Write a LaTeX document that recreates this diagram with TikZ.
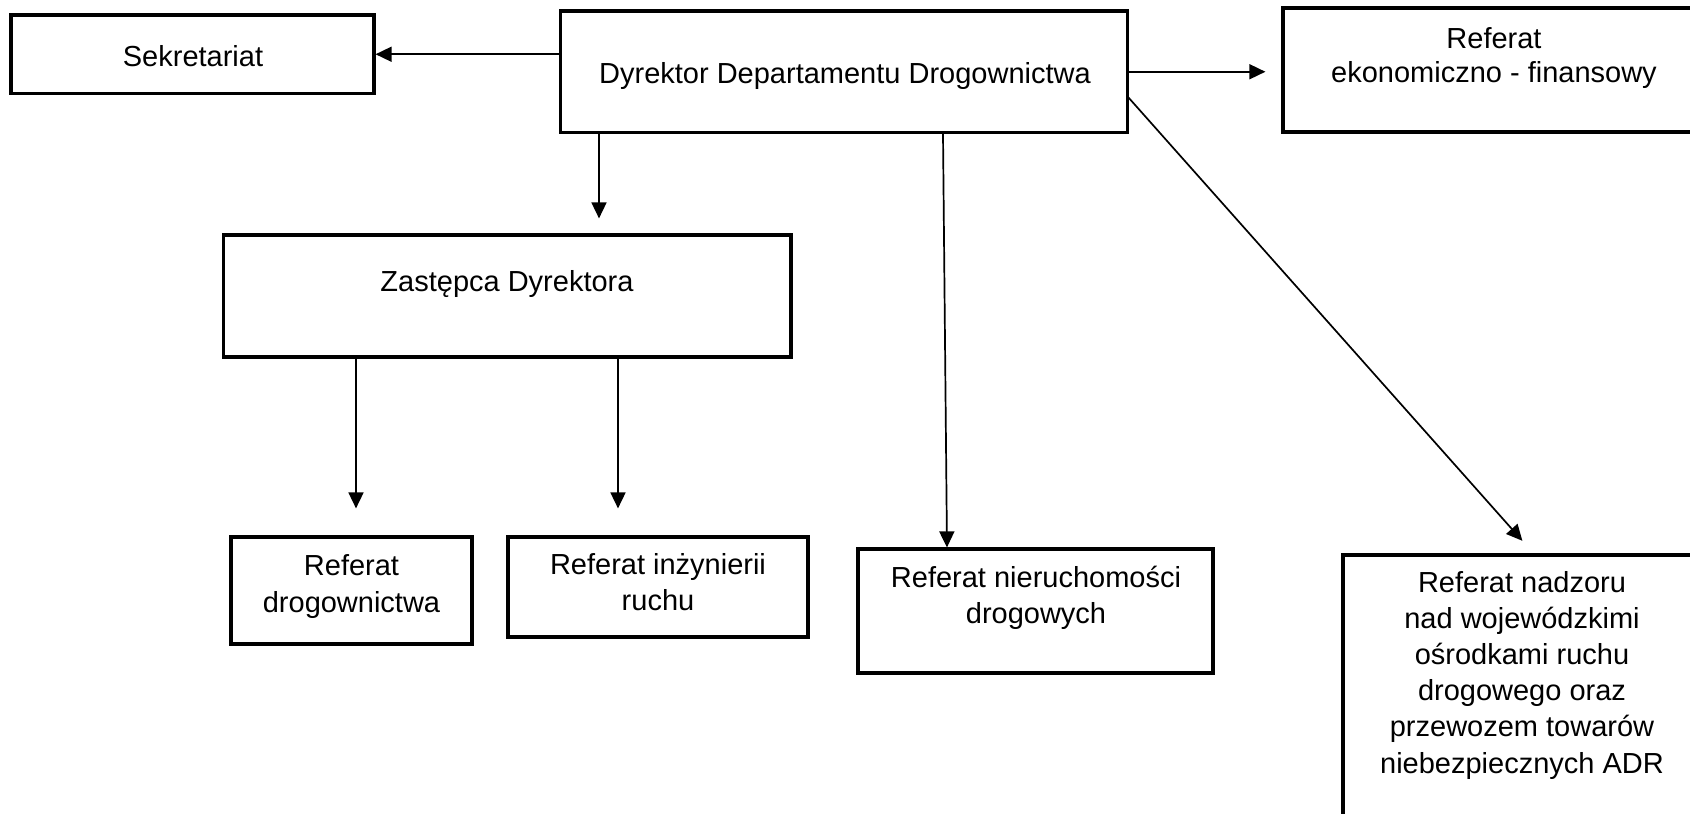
\documentclass[tikz,border=0pt]{standalone}
\usepackage{fontspec}
\setmainfont{Liberation Sans}
\usetikzlibrary{arrows.meta}
\begin{document}
\begin{tikzpicture}[x=1pt,y=-1pt,
  box/.style={draw, line width=3.2pt, inner sep=0pt, rectangle},
  txt/.style={anchor=base, inner sep=0pt, align=center, font=\fontsize{29}{36.2}\selectfont},
  arr/.style={draw, line width=1.7pt, -{Triangle[length=16pt,width=15pt]}}]
\clip (0,0) rectangle (1690,814);
\fill[white] (0,0) rectangle (1690,814);
% boxes
\node[box, minimum width=363pt, minimum height=78.5pt] (sek) at (192.5,54.25) {};
\node[box, minimum width=567pt, minimum height=121.5pt] (dyr) at (844,71.75) {};
\node[box, minimum width=422pt, minimum height=124pt] (ekon) at (1494,70) {};
\node[box, minimum width=567.5pt, minimum height=122pt] (zas) at (507.25,296) {};
\node[box, minimum width=241pt, minimum height=107pt] (drog) at (351.5,590.5) {};
\node[box, minimum width=300pt, minimum height=100pt] (inz) at (658,587) {};
\node[box, minimum width=355pt, minimum height=124pt] (nier) at (1035.5,611) {};
\node[box, minimum width=358pt, minimum height=275pt] (nad) at (1522,692.5) {};
% texts (anchor at baseline of last line)
\node[txt] (tsek) at (193,66) {Sekretariat};
\node[txt] (tdyr) at (845,83.5) {Dyrektor Departamentu Drogownictwa};
\node[txt, font=\fontsize{29}{34}\selectfont] (tekon) at (1494,82.5) {Referat\\ekonomiczno - finansowy};
\node[txt] (tzas) at (507,291.5) {Zastępca Dyrektora};
\node[txt, font=\fontsize{29}{37}\selectfont] (tdrog) at (351.5,612) {Referat\\drogownictwa};
\node[txt, font=\fontsize{29}{36}\selectfont] (tinz) at (658,610) {Referat inżynierii\\ruchu};
\node[txt, font=\fontsize{29}{36}\selectfont] (tnier) at (1036,623) {Referat nieruchomości\\drogowych};
\node[txt] (tnad) at (1522,773) {Referat nadzoru\\nad wojewódzkimi\\ośrodkami ruchu\\drogowego oraz\\przewozem towarów\\niebezpiecznych ADR};
% coordinates for connector columns
\coordinate (cz) at (599,0);
\coordinate (cn1) at (943,0);
\coordinate (cn2) at (947,0);
\coordinate (cd1) at (1128,97);
\coordinate (cd2) at (1535,555);
\coordinate (c1) at (356,0);
\coordinate (c2) at (618,0);
% connectors
\draw[arr] (dyr.west |- sek.east) -- (sek.east);
\draw[arr, shorten >=16pt] (dyr.east) -- (dyr.east -| ekon.west);
\draw[arr, shorten >=15pt] (dyr.south -| cz) -- (zas.north -| cz);
\draw[arr] (dyr.south -| cn1) -- (nier.north -| cn2);
\draw[arr, shorten >=19pt] (cd1) -- (cd2);
\draw[arr, shorten >=27pt] (zas.south -| c1) -- (drog.north -| c1);
\draw[arr, shorten >=27pt] (zas.south -| c2) -- (inz.north -| c2);
\end{tikzpicture}
\end{document}
